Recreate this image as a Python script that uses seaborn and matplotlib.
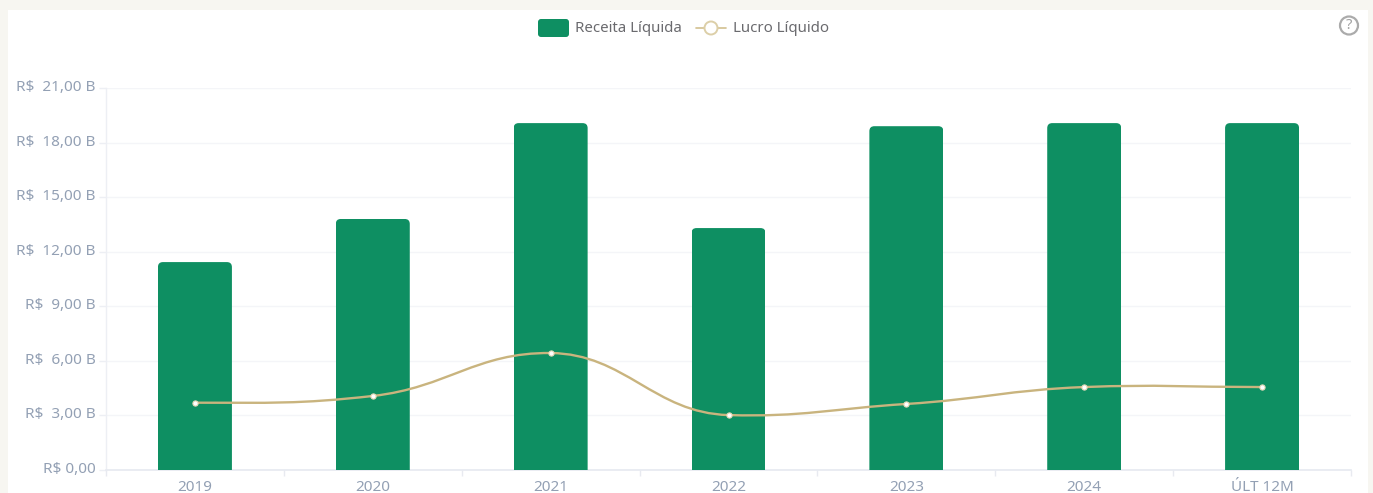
import numpy as np
import pandas as pd
import matplotlib
matplotlib.use("Agg")
import matplotlib.pyplot as plt
import seaborn as sns
from matplotlib.patches import FancyBboxPatch, PathPatch, Circle, Rectangle
from matplotlib.path import Path
from matplotlib.transforms import IdentityTransform, ScaledTranslation

categories = ["2019", "2020", "2021", "2022", "2023", "2024", "ÚLT 12M"]
receita = [11.43, 13.80, 19.07, 13.30, 18.90, 19.07, 19.07]
lucro = [3.70, 4.07, 6.43, 3.02, 3.63, 4.56, 4.56]
ytick_values = [0, 3, 6, 9, 12, 15, 18, 21]
ytick_labels = ["R$ 0,00", "R$  3,00 B", "R$  6,00 B", "R$  9,00 B", "R$  12,00 B",
                "R$  15,00 B", "R$  18,00 B", "R$  21,00 B"]

W, H = 1373, 493
GREEN = "#0E8F62"
GOLD = "#C9B47E"
LABEL = "#93A0B4"
TEXT = "#6A6A6E"

sns.set_theme(style="white")
plt.rcParams["font.family"] = ["Noto Sans", "DejaVu Sans"]

fig = plt.figure(figsize=(W / 100, H / 100), dpi=100, facecolor="#F7F6F1")
fig.add_artist(Rectangle((8 / W, 0), 1360 / W, 1 - 10 / H, transform=fig.transFigure,
                         facecolor="white", edgecolor="none", zorder=-5))
ax = fig.add_axes([106 / W, 1 - 470 / H, (1351 - 106) / W, (470 - 88) / H])
ax.set_facecolor("none")

df = pd.DataFrame({"cat": categories, "receita": receita, "lucro": lucro})
sns.barplot(data=df, x="cat", y="receita", color=GREEN, saturation=1, width=74 / 177.9,
            ax=ax, zorder=3)
ax.set_xlim(-0.5, 6.5)
ax.set_ylim(0, 21)

# round the top corners of each bar
fig.canvas.draw()
for bar in ax.patches:
    bb = bar.get_window_extent()
    r = 5
    clip = FancyBboxPatch((bb.x0 + r, bb.y0 - 20), bb.width - 2 * r, bb.height + 20 - r,
                          boxstyle=f"round,pad={r},rounding_size={r}",
                          transform=IdentityTransform())
    bar.set_clip_path(clip)
    bar.set_edgecolor("none")

# smooth profit curve, bezier segments through the data points
xs = np.arange(len(categories), dtype=float)
ys = np.array(lucro)
n = len(xs)
slopes = np.zeros(n)
for i in range(1, n - 1):
    s = (ys[i + 1] - ys[i - 1]) / 2
    extremum = (ys[i] - ys[i - 1]) * (ys[i + 1] - ys[i]) < 0
    slopes[i] = s * (0.2 if extremum else 0.8)
handle = 0.42
verts = [(xs[0], ys[0])]
codes = [Path.MOVETO]
for i in range(n - 1):
    verts += [(xs[i] + handle, ys[i] + slopes[i] * handle),
              (xs[i + 1] - handle, ys[i + 1] - slopes[i + 1] * handle),
              (xs[i + 1], ys[i + 1])]
    codes += [Path.CURVE4] * 3
ax.add_patch(PathPatch(Path(verts, codes), facecolor="none", edgecolor=GOLD, lw=1.7, zorder=4))
sns.scatterplot(data=df, x="cat", y="lucro", s=14, color="white", edgecolor="#E3D8B8",
                linewidth=0.8, zorder=5, ax=ax, clip_on=False)
ax.set_xlabel("")
ax.set_ylabel("")

# axes styling
ax.set_yticks(ytick_values)
ax.set_yticklabels(ytick_labels)
ax.set_xticks(xs)
ax.set_xticklabels(categories)
ax.set_xticks(np.arange(-0.5, 7.0, 1.0), minor=True)
ax.tick_params(axis="x", which="major", length=0, pad=7, labelsize=11, labelcolor=LABEL)
ax.tick_params(axis="x", which="minor", length=4, width=1, color="#E8EAF0", bottom=True)
ax.tick_params(axis="y", which="major", length=5, width=1, color="#EDEFF4", left=True,
               pad=2.5, labelsize=11, labelcolor=LABEL)
up = ScaledTranslation(0, 2.5 / 100, fig.dpi_scale_trans)
for lab in ax.get_yticklabels():
    lab.set_transform(lab.get_transform() + up)
ax.yaxis.grid(True, color="#F4F5F8", lw=1)
ax.xaxis.grid(False)
ax.set_axisbelow(True)
for s in ["top", "right"]:
    ax.spines[s].set_visible(False)
ax.spines["left"].set_color("#EDEFF4")
ax.spines["left"].set_linewidth(1)
ax.spines["bottom"].set_color("#E6E9F0")
ax.spines["bottom"].set_linewidth(1.2)

# legend, placed in pixels
px = IdentityTransform()
def Y(y):
    return H - y
fig.add_artist(FancyBboxPatch((540, Y(35)), 27, 14, boxstyle="round,pad=2,rounding_size=3",
                              transform=px, facecolor=GREEN, edgecolor="none"))
fig.text(575 / W, 1 - 28 / H, "Receita Líquida", fontsize=10.8, color=TEXT, va="center", ha="left")
fig.add_artist(plt.Line2D([696, 726], [Y(28), Y(28)], transform=px, color="#D2C08F", lw=1.2))
fig.add_artist(Circle((711, Y(28)), 6.5, transform=px, facecolor="white", edgecolor="#DCCFA8", lw=1.4, zorder=5))
fig.text(733 / W, 1 - 28 / H, "Lucro Líquido", fontsize=10.8, color=TEXT, va="center", ha="left")

# help icon
fig.add_artist(Circle((1349, Y(25.5)), 9, transform=px, facecolor="white", edgecolor="#ABABAB", lw=1.6))
fig.text(1349 / W, 1 - 25.5 / H, "?", fontsize=10.5, fontweight="bold", color="#A0A0A0", ha="center", va="center")

fig.savefig("out.png", dpi=100, facecolor=fig.get_facecolor())
